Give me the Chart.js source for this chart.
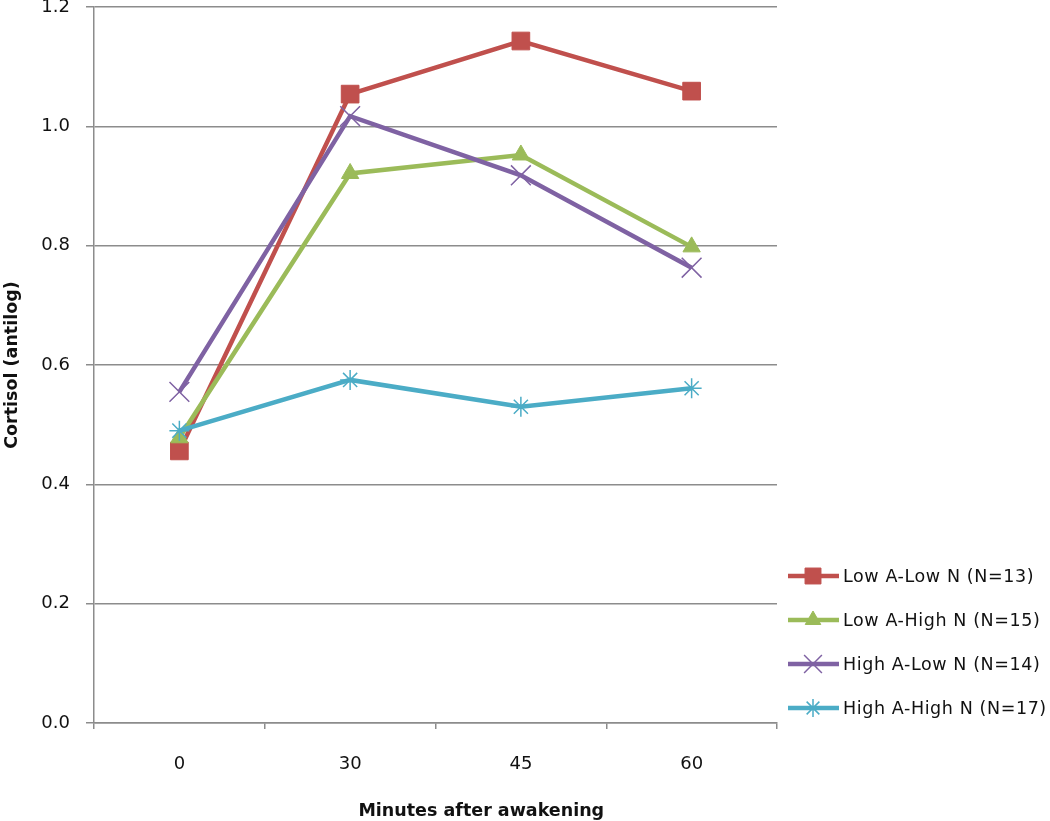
<!DOCTYPE html>
<html lang="en">
<head>
  <meta charset="UTF-8">
  <title>Cortisol after awakening</title>
  <script src="https://cdn.jsdelivr.net/npm/chart.js"></script>
  <style>
    html, body { margin: 0; padding: 0; background: #fff; }
    #wrap { width: 1050px; height: 821px; }
  </style>
</head>
<body>
<div id="wrap"><canvas id="cortisolChart"></canvas></div>
<script>
  // values
  const minutes = ['0', '30', '45', '60'];
  const lowALowN = [0.456, 1.054, 1.143, 1.059];
  const lowAHighN = [0.478, 0.921, 0.952, 0.798];
  const highALowN = [0.555, 1.017, 0.918, 0.763];
  const highAHighN = [0.490, 0.575, 0.530, 0.561];
  const seriesNames = ['Low A-Low N (N=13)', 'Low A-High N (N=15)', 'High A-Low N (N=14)', 'High A-High N (N=17)'];
  const xTitle = 'Minutes after awakening';
  const yTitle = 'Cortisol (antilog)';

  const gridGrey = '#8c8c8c';
  const fontFamily = '"DejaVu Sans", sans-serif';

  // legend on the right (line with the marker in the middle) and the x title,
  // which in the original sits off-centre, to the right of the plot middle
  const sideLegend = {
    id: 'sideLegend',
    afterDraw(chart) {
      const ctx = chart.ctx;
      const area = chart.chartArea;
      const x0 = area.right + 11;
      chart.data.datasets.forEach((ds, i) => {
        const y = area.bottom - 147 + i * 44;
        ctx.save();
        ctx.strokeStyle = ds.borderColor;
        ctx.lineWidth = ds.borderWidth;
        ctx.beginPath();
        ctx.moveTo(x0, y);
        ctx.lineTo(x0 + 51, y);
        ctx.stroke();
        if (Chart.helpers && Chart.helpers.drawPoint) {
          ctx.fillStyle = ds.pointBackgroundColor;
          ctx.strokeStyle = ds.pointBorderColor;
          ctx.lineWidth = ds.pointBorderWidth;
          Chart.helpers.drawPoint(ctx, {
            pointStyle: ds.pointStyle,
            radius: ds.pointRadius * 0.9,
            rotation: 0,
            borderWidth: ds.pointBorderWidth
          }, x0 + 25, y);
        }
        ctx.fillStyle = '#111';
        ctx.font = '17.5px ' + fontFamily;
        ctx.letterSpacing = '0.6px';
        ctx.textBaseline = 'middle';
        ctx.textAlign = 'left';
        ctx.fillText(ds.label, x0 + 55, y + 1);
        ctx.restore();
      });

      ctx.save();
      ctx.fillStyle = '#111';
      ctx.font = 'bold 17.5px ' + fontFamily;
      ctx.textAlign = 'center';
      ctx.textBaseline = 'alphabetic';
      ctx.fillText(xTitle, area.left + (area.right - area.left) * 0.567, chart.height - 5);
      ctx.restore();
    }
  };

  function series(label, data, color, style, radius, markerLine, order) {
    return {
      label: label,
      data: data,
      borderColor: color,
      backgroundColor: color,
      borderWidth: 4.5,
      pointStyle: style,
      pointRadius: radius,
      pointHoverRadius: radius,
      pointBackgroundColor: color,
      pointBorderColor: color,
      pointBorderWidth: markerLine,
      tension: 0,
      fill: false,
      order: order
    };
  }

  const chart = new Chart(document.getElementById('cortisolChart').getContext('2d'), {
    type: 'line',
    data: {
      labels: minutes,
      datasets: [
        series(seriesNames[0], lowALowN, '#c0504d', 'rect', 12.5, 1, 4),
        series(seriesNames[1], lowAHighN, '#9bbb59', 'triangle', 10, 1, 3),
        series(seriesNames[2], highALowN, '#7f62a3', 'crossRot', 14, 1.5, 2),
        series(seriesNames[3], highAHighN, '#4bacc6', 'star', 10, 1.5, 1)
      ]
    },
    plugins: [sideLegend],
    options: {
      responsive: true,
      maintainAspectRatio: false,
      animation: false,
      layout: {
        autoPadding: false,
        padding: { left: 0, right: 273, top: 0, bottom: 0 }
      },
      plugins: {
        legend: { display: false },
        tooltip: { enabled: false }
      },
      scales: {
        x: {
          offset: true,
          afterFit: (scale) => {
            scale.height = 98;
            scale.paddingLeft = 0;
            scale.paddingRight = 0;
          },
          grid: {
            offset: true,
            drawOnChartArea: false,
            drawTicks: true,
            tickLength: 6,
            color: gridGrey,
            lineWidth: 1.5
          },
          border: { color: gridGrey, width: 1.5 },
          ticks: {
            color: '#111',
            padding: 25,
            font: { family: fontFamily, size: 18 }
          },
          title: { display: false }
        },
        y: {
          min: 0,
          max: 1.2,
          afterFit: (scale) => {
            scale.width = 94;
            scale.paddingTop = 7;
            scale.paddingBottom = 0;
          },
          grid: {
            color: gridGrey,
            lineWidth: 1.5,
            tickLength: 8
          },
          border: { color: gridGrey, width: 1.5 },
          ticks: {
            stepSize: 0.2,
            color: '#111',
            padding: 16,
            font: { family: fontFamily, size: 18 },
            callback: (v) => v.toFixed(1)
          },
          title: {
            display: true,
            text: yTitle,
            color: '#111',
            font: { family: fontFamily, size: 17.5, weight: 'bold' },
            padding: { top: 1.5, bottom: 0 }
          }
        }
      }
    }
  });
</script>
</body>
</html>
